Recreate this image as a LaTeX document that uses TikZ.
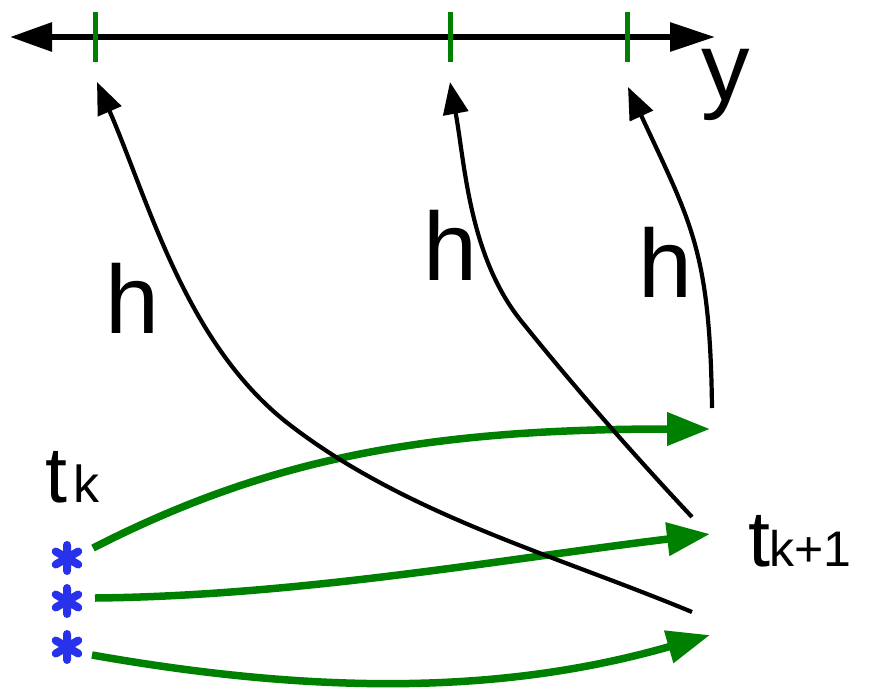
\documentclass[tikz,border=0pt]{standalone}
\usepackage{fontspec}
\setmainfont{Liberation Sans}
\usetikzlibrary{arrows.meta}
\definecolor{tickgreen}{RGB}{0,128,0}
\definecolor{astblue}{RGB}{40,50,235}
\begin{document}
\begin{tikzpicture}[x=1pt,y=-1pt,
  axisline/.style={line width=6pt,{Triangle[length=42pt,width=28pt]}-{Triangle[length=45pt,width=28pt]}},
  tickmark/.style={rectangle,fill=tickgreen,minimum width=5pt,minimum height=50pt,inner sep=0pt},
  garrow/.style={draw=tickgreen,line width=7.5pt,-{Triangle[length=43pt,width=32pt]}},
  harrow/.style={draw=black,line width=4.2pt,-{Triangle[length=32pt,width=25pt]}},
  bigtext/.style={font=\fontsize{97}{110}\selectfont,inner sep=0pt,anchor=base west},
  tlabel/.style={font=\fontsize{79}{90}\selectfont,inner sep=0pt,anchor=base west},
  asterisk/.style={circle,minimum size=40pt,inner sep=0pt,
    path picture={
      \draw[astblue,line width=8pt,line cap=round]
        ([shift={(90:13pt)}]path picture bounding box.center) -- ([shift={(270:13pt)}]path picture bounding box.center)
        ([shift={(30:13pt)}]path picture bounding box.center) -- ([shift={(210:13pt)}]path picture bounding box.center)
        ([shift={(150:13pt)}]path picture bounding box.center) -- ([shift={(330:13pt)}]path picture bounding box.center);
    }}
]
\useasboundingbox (0,0) rectangle (872,691);

% axis
\coordinate (axl) at (10,37);
\coordinate (axr) at (715,37);
\draw[axisline] (axl) -- (axr);
\node[tickmark] (tick1) at (95,37) {};
\node[tickmark] (tick2) at (450,37) {};
\node[tickmark] (tick3) at (627,37) {};
\node[bigtext] (ylab) at (701,100) {y};

% asterisks and labels
\node[asterisk] (s1) at (67,558) {};
\node[asterisk] (s2) at (67,601) {};
\node[asterisk] (s3) at (67,647) {};
\node[tlabel] (tk) at (45.5,502) {t\kern6pt{\fontsize{52}{60}\selectfont k}};
\node[tlabel] (tk1) at (748.5,566) {t\kern-1pt{\fontsize{50}{60}\selectfont k+1}};

% green arrows
\coordinate (g1s) at (93,548);
\coordinate (g2s) at (95,598);
\coordinate (g3s) at (92,655);
\coordinate (g1e) at (710,429);
\coordinate (g2e) at (710,534);
\coordinate (g3e) at (710,635);
\draw[garrow] (g1s) .. controls (271,457) and (430,429) .. (g1e);
\draw[garrow] (g2s) .. controls (300,596) and (510,558) .. (g2e);
\draw[garrow] (g3s) .. controls (338,698.5) and (518,690) .. (g3e);

% h arrows
\coordinate (h1s) at (692,612);
\coordinate (h2s) at (692,517);
\coordinate (h3s) at (712,408);
\coordinate (h1e) at (97,82);
\coordinate (h2e) at (450,82);
\coordinate (h3e) at (628,87);
\draw[harrow] (h1s) .. controls (555,555) and (407,515) .. (290,425)
  .. controls (186,345) and (149,202) .. (h1e);
\draw[harrow] (h2s) .. controls (633,454) and (576,389) .. (522,322)
  .. controls (469,257) and (465,164) .. (h2e);
\draw[harrow] (h3s) .. controls (710,250) and (691,223) .. (h3e);

\node[bigtext] (hl1) at (105,333) {h};
\node[bigtext] (hl2) at (423,280) {h};
\node[bigtext] (hl3) at (638,297) {h};
\end{tikzpicture}
\end{document}
